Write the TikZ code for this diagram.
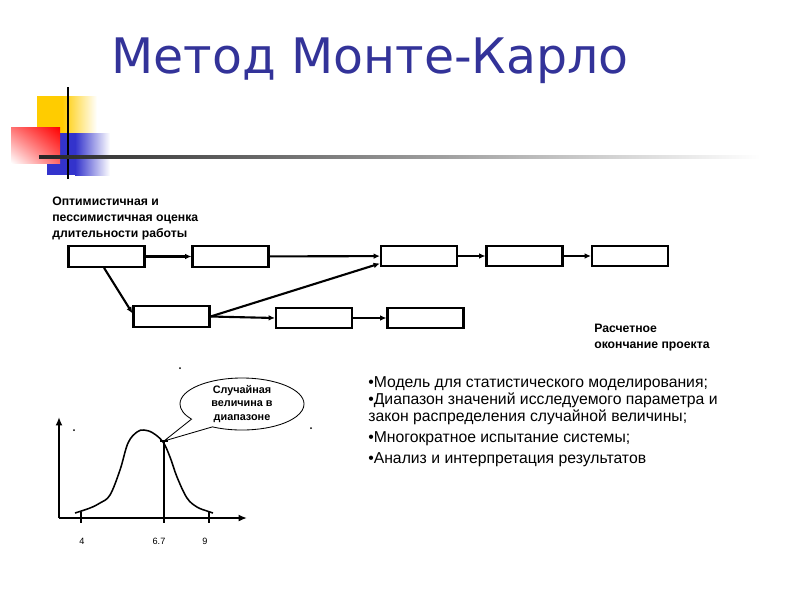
\documentclass[tikz,border=0pt]{standalone}
\usepackage{fontspec}
\setmainfont{Liberation Sans}
\newfontfamily\titlefont{DejaVu Sans}
\usetikzlibrary{arrows.meta,shapes.callouts,shadings}
\definecolor{titleblue}{HTML}{333399}
\definecolor{decoyellow}{HTML}{FFCC00}
\definecolor{decoblue}{HTML}{3333CC}
\definecolor{decored}{HTML}{FF0000}

\begin{document}
\begin{tikzpicture}[x=0.025cm,y=-0.025cm,
    jobbox/.style={draw,line width=1.5pt,minimum width=1.9cm,minimum height=0.52cm,inner sep=0pt},
    flow/.style={line width=1.5pt,-{Latex[length=4.5pt,width=4pt]}},
    axis/.style={line width=1.5pt,-{Latex[length=6pt,width=5pt]}},
    note/.style={font=\bfseries\fontsize{8.7}{11.4}\selectfont,align=left,inner sep=0pt,anchor=north west},
    dot/.style={fill=black,circle,inner sep=0.5pt}]
    \useasboundingbox[fill=white] (0,0) rectangle (800,600);
    % title and corner decoration
    \node[font=\titlefont\fontsize{34.8}{40}\selectfont,text=titleblue,anchor=base] (title) at (370,73) {Метод Монте-Карло};
    \fill[decoyellow] (37,96) rectangle (62,133);
    \shade[left color=decoyellow,right color=white] (62,96) rectangle (97,133);
    \fill[decoblue] (47,133) rectangle (75,175);
    \shade[left color=decoblue,right color=white] (75,133) rectangle (110,175);
    \shade[upper right=decored,upper left=decored!55!white,lower right=decored!60!white,lower left=white] (11,127) rectangle (60,163);
    \draw[line width=1.5pt] (68,87) -- (68,179);
    \shade[left color=black!85,right color=white] (39,155.8) rectangle (760,158.2);
    % network of works
    \node[note] (optlbl) at (52,197) {Оптимистичная и\\пессимистичная оценка\\длительности работы};
    \node[jobbox] (b1) at (106.5,256.5){};
    \node[jobbox] (b2) at (230.5,256.5){};
    \node[jobbox] (b3) at (419,256){};
    \node[jobbox] (b5) at (524.5,256){};
    \node[jobbox] (b6) at (630,256){};
    \node[jobbox] (b4) at (171.5,316.5){};
    \node[jobbox] (b7) at (314,318){};
    \node[jobbox] (b8) at (425.5,318){};
    \draw[flow] (b1) -- (b2);
    \draw[flow] (b2) -- (b3);
    \draw[flow] (b3) -- (b5);
    \draw[flow] (b5) -- (b6);
    \draw[flow] ([xshift=-0.06cm]b1.south) -- ([yshift=0.08cm]b4.west);
    \draw[flow] (b4.east) -- ([yshift=0.1cm]b3.south west);
    \draw[flow] (b4.east) -- (b7.west);
    \draw[flow] (b7) -- (b8);
    \node[note] (endlbl) at (594,324) {Расчетное\\окончание проекта};
    % distribution
    \coordinate (o) at (59,518);
    \coordinate (ytop) at (59,417);
    \coordinate (xend) at (247,518);
    \draw[axis] (o) -- (ytop);
    \draw[axis] (o) -- (xend);
    \draw[line width=1.1pt] plot[smooth,tension=0.6] coordinates {(75,513) (90,508) (100,503) (110,495) (120,470) (128,443) (137,432) (144,430) (153,433) (163,442) (170,457) (177,477) (187,498) (197,507) (207,511) (213,513)};
    \foreach \t/\lx/\lab in {81/82/4,164/159/6.7,209/205/9} {
        \draw[line width=1.4pt] (\t,512) -- (\t,523);
        \node[font=\fontsize{6.5}{8}\selectfont] (tick\lx) at (\lx,541) {\lab};
    }
    \coordinate (hit) at (164,441);
    \draw[line width=1.4pt] (hit) -- (164,518);
    \draw[line width=1pt] (160,441) -- (168,441);
    \node[ellipse callout,draw,line width=0.6pt,callout absolute pointer={(hit)},callout pointer arc=26,
        minimum width=3.1cm,minimum height=1.3cm,inner sep=0pt,align=center,
        font=\bfseries\fontsize{7.7}{9.3}\selectfont] (bubble) at (242,404) {Случайная\\величина в\\диапазоне};
    \node[dot] (d1) at (74,430){};
    \node[dot] (d2) at (180,368){};
    \node[dot] (d3) at (311,428){};
    % list
    \node[font=\fontsize{11.2}{12.2}\selectfont,align=left,inner sep=0pt,anchor=north west] (items) at (368,376.5)
        {•Модель для статистического моделирования;\\
         •Диапазон значений исследуемого параметра и\\
         закон распределения случайной величины;\\[2.5pt]
         •Многократное испытание системы;\\[2.5pt]
         •Анализ и интерпретация результатов};
\end{tikzpicture}
\end{document}
